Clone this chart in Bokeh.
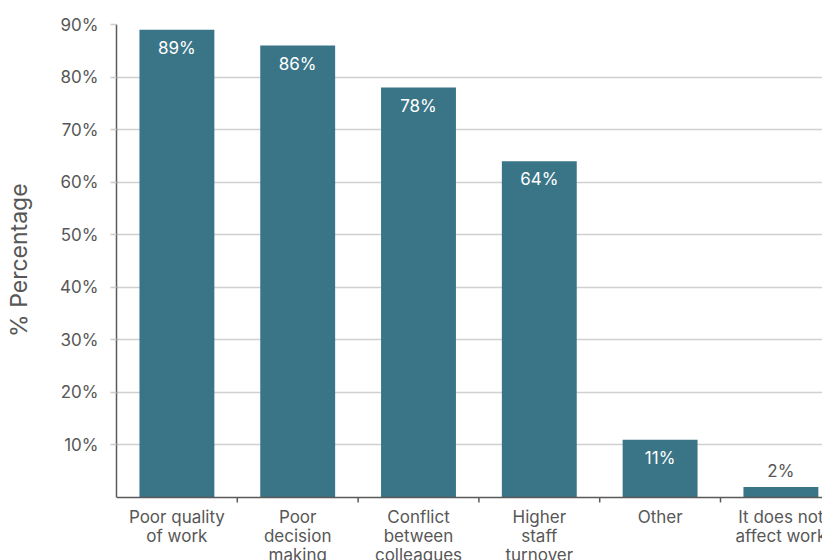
from bokeh.plotting import figure
from bokeh.models import ColumnDataSource, LabelSet, Range1d, FixedTicker, LinearAxis, Span
from bokeh.core.properties import value
from bokeh.embed import file_html
from bokeh.resources import INLINE

# Impact of the issue on work (% of respondents)
categories = ["Poor quality\nof work", "Poor\ndecision\nmaking", "Conflict\nbetween\ncolleagues",
              "Higher\nstaff\nturnover", "Other", "It does not\naffect work"]
values = [89, 86, 78, 64, 11, 2]
y_ticks = [10, 20, 30, 40, 50, 60, 70, 80, 90]
y_title = "% Percentage"

FONT = "Inter"
BAR = "#3a7587"
GREY = "#575757"
AXIS = "#5a5a5a"

# canvas layout (pixels)
W, H = 822, 560
TOP, ZERO_PX, LEFT = 24, 497, 116
px_per_unit = (ZERO_PX - TOP) / y_ticks[-1]
y_start = y_ticks[-1] - (H - TOP) / px_per_unit
n = len(categories)
x_end = (W - LEFT) / 120.8  # roughly 5.85 category slots visible

centers = [i + 0.5 for i in range(n)]
boundaries = list(range(1, n))
labels = [f"{v}%" for v in values]
inside = [v >= 10 for v in values]

src_in = ColumnDataSource(dict(x=[c for c, k in zip(centers, inside) if k],
                               y=[v for v, k in zip(values, inside) if k],
                               t=[t for t, k in zip(labels, inside) if k]))
src_out = ColumnDataSource(dict(x=[c for c, k in zip(centers, inside) if not k],
                                y=[v for v, k in zip(values, inside) if not k],
                                t=[t for t, k in zip(labels, inside) if not k]))

p = figure(width=W, height=H, output_backend="svg", toolbar_location=None,
           x_range=Range1d(0, x_end), y_range=Range1d(y_start, y_ticks[-1]),
           x_axis_location=None, y_axis_location=None,
           min_border_left=LEFT, min_border_right=0, min_border_top=TOP, min_border_bottom=0)
p.outline_line_color = None
p.background_fill_color = "white"
p.border_fill_color = "white"

# the frame runs to the canvas bottom, so the axis title is padded at its start
# to sit centred on the 0-90 span rather than on the whole frame
ticker = FixedTicker(ticks=y_ticks)
yaxis = LinearAxis(ticker=ticker, axis_label="\u00a0" * 10 + y_title, bounds=(0, y_ticks[-1]))
yaxis.major_label_overrides = {t: f"{t}%" for t in y_ticks}
yaxis.axis_line_color = AXIS
yaxis.axis_line_width = 1.5
yaxis.major_tick_out = 6
yaxis.major_tick_in = 0
yaxis.major_tick_line_color = "#cccccc"
yaxis.major_tick_line_width = 1.5
yaxis.minor_tick_line_color = None
yaxis.major_label_standoff = 12
yaxis.major_label_text_font = FONT
yaxis.major_label_text_font_size = "17px"
yaxis.major_label_text_color = GREY
yaxis.axis_label_text_font = FONT
yaxis.axis_label_text_font_size = "23px"
yaxis.axis_label_text_font_style = "normal"
yaxis.axis_label_text_color = GREY
yaxis.axis_label_standoff = 24
p.add_layout(yaxis, "left")

p.xgrid.visible = False
p.ygrid.ticker = ticker
p.ygrid.grid_line_color = "#d0d0d0"
p.ygrid.grid_line_width = 1.5

p.vbar(x=centers, top=values, bottom=0, width=0.62, color=BAR, line_color=None)

# baseline with small ticks between categories
p.add_layout(Span(location=0, dimension="width", line_color=AXIS, line_width=1.5))
p.segment(x0=boundaries, y0=[0] * len(boundaries), x1=boundaries,
          y1=[-5 / px_per_unit] * len(boundaries), line_color=AXIS, line_width=1.5)

# category names under the baseline
p.text(x=centers, y=[-9 / px_per_unit] * n, text=categories, text_align="center",
       text_baseline="top", text_color=GREY, text_font=value(FONT),
       text_font_size="17px", text_line_height=0.95)

p.add_layout(LabelSet(x="x", y="y", text="t", source=src_in, text_align="center",
                      text_baseline="top", y_offset=-8, text_color="white",
                      text_font=value(FONT), text_font_size="17px"))
p.add_layout(LabelSet(x="x", y="y", text="t", source=src_out, text_align="center",
                      text_baseline="bottom", y_offset=6, text_color=GREY,
                      text_font=value(FONT), text_font_size="17px"))

open("out.html", "w").write(file_html(p, INLINE))
